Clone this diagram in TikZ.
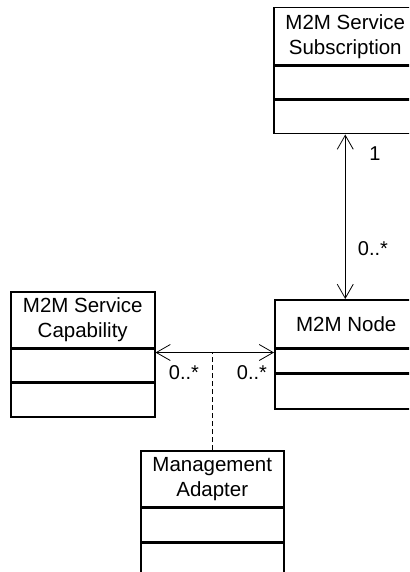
\documentclass[tikz,border=0pt]{standalone}
\usepackage{fontspec}
\setmainfont{Liberation Sans}
\usetikzlibrary{arrows.meta,calc}
\begin{document}
\begin{tikzpicture}[x=1pt,y=-1pt,
  cls/.style={draw, line width=1.5pt, anchor=north west, inner sep=0pt, align=center, font=\fontsize{20.5}{25}\selectfont},
  lbl/.style={inner sep=0pt, font=\fontsize{20}{24}\selectfont},
  assoc/.style={line width=0.8pt, {Straight Barb[length=14pt,width=16pt]}-{Straight Barb[length=14pt,width=16pt]}},
  dep/.style={line width=0.8pt, dash pattern=on 5pt off 3pt}]
\clip (0,0) rectangle (409,572);
\fill[white] (0,0) rectangle (409,572);
% M2M Service Subscription
\node[cls, minimum width=143pt, minimum height=57pt] (subh) at (273,7) {M2M Service\\Subscription};
\node[cls, minimum width=143pt, minimum height=33pt] (suba) at (subh.south west) {};
\node[cls, minimum width=143pt, minimum height=33pt] (subo) at (suba.south west) {};
% M2M Node
\node[cls, minimum width=143pt, minimum height=48pt] (nodeh) at (274,299) {M2M Node};
\node[cls, minimum width=143pt, minimum height=23pt] (nodea) at (nodeh.south west) {};
\node[cls, minimum width=143pt, minimum height=35pt] (nodeo) at (nodea.south west) {};
% M2M Service Capability
\node[cls, minimum width=144pt, minimum height=56pt] (caph) at (10,291) {M2M Service\\Capability};
\node[cls, minimum width=144pt, minimum height=32pt] (capa) at (caph.south west) {};
\node[cls, minimum width=144pt, minimum height=34pt] (capo) at (capa.south west) {};
% Management Adapter
\node[cls, minimum width=143pt, minimum height=56pt] (mgh) at (140,450) {Management\\Adapter};
\node[cls, minimum width=143pt, minimum height=33pt] (mga) at (mgh.south west) {};
\node[cls, minimum width=143pt, minimum height=34pt] (mgo) at (mga.south west) {};
% connectors
\draw[assoc] (subo.south) -- (subo.south |- nodeh.north);
\coordinate (la) at ($(capa.north east)+(0,4)$);
\coordinate (ra) at ($(nodea.north west)+(0,4)$);
\draw[assoc] (la) -- (ra);
\draw[dep] (mgh.north) -- (mgh.north |- la);
% labels
\node[lbl] (l1) at (375,154) {1};
\node[lbl] (l2) at (373,249) {0..*};
\node[lbl] (l3) at (184,373) {0..*};
\node[lbl] (l4) at (252,373) {0..*};
\end{tikzpicture}
\end{document}
